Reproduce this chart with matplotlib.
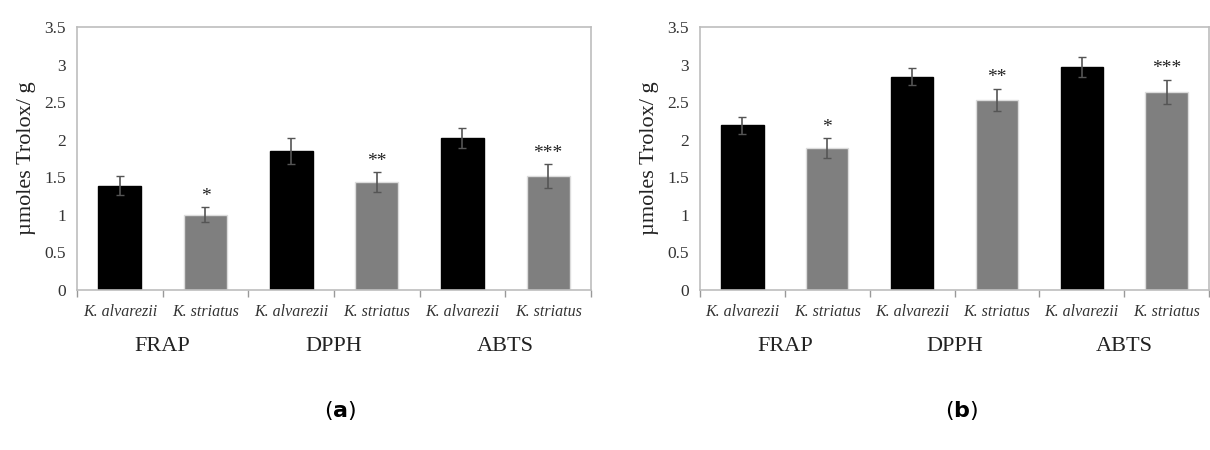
import matplotlib
matplotlib.use("Agg")
import matplotlib.pyplot as plt
import numpy as np

categories = ["K. alvarezii", "K. striatus", "K. alvarezii", "K. striatus", "K. alvarezii", "K. striatus"]
groups = ["FRAP", "DPPH", "ABTS"]
values_a = [1.39, 1.00, 1.85, 1.44, 2.02, 1.52]
errors_a = [0.13, 0.10, 0.17, 0.13, 0.13, 0.16]
values_b = [2.19, 1.89, 2.84, 2.53, 2.97, 2.64]
errors_b = [0.11, 0.13, 0.11, 0.15, 0.13, 0.16]
stars = ["", "*", "", "**", "", "***"]
panel_labels = ["a", "b"]
yticks = [0, 0.5, 1, 1.5, 2, 2.5, 3, 3.5]
ytick_labels = ["0", "0.5", "1", "1.5", "2", "2.5", "3", "3.5"]

colors = ["#000000", "#7f7f7f"] * 3
edges = ["#000000", "#dcdcdc"] * 3
spine_c = "#bdbdbd"

plt.rcParams['font.family'] = ['Liberation Serif', 'DejaVu Serif']
plt.rcParams['mathtext.fontset'] = 'dejavusans'

fig = plt.figure(figsize=(12.1, 4.5), dpi=100)
ax_a = fig.add_axes([77/1210, 160/450, 514/1210, 263/450])
ax_b = fig.add_axes([700/1210, 160/450, 509/1210, 263/450])

for ax, vals, errs in [(ax_a, values_a, errors_a), (ax_b, values_b, errors_b)]:
    x = np.arange(len(categories))
    ax.bar(x, vals, width=0.5, color=colors, edgecolor=edges, linewidth=1.0, zorder=2)
    ax.errorbar(x, vals, yerr=errs, fmt="none", ecolor="#555555", elinewidth=1.2,
                capsize=3, capthick=1.0, zorder=3)
    for xi, v, e, s in zip(x, vals, errs, stars):
        if s:
            ax.text(xi, v + e + 0.03, s, ha="center", va="bottom", fontsize=14, color="#222222")
    ax.set_xlim(-0.5, len(categories) - 0.5)
    ax.set_ylim(0, 3.5)
    ax.set_yticks(yticks)
    ax.set_yticklabels(ytick_labels, fontsize=12.5, color="#333333")
    ax.tick_params(axis="y", length=0, pad=8)
    ax.set_xticks(x)
    ax.set_xticklabels(categories, fontsize=11.5, style="italic", color="#333333")
    ax.set_xticks(np.arange(-0.5, len(categories), 1.0), minor=True)
    ax.tick_params(axis="x", which="major", length=0, pad=10)
    ax.tick_params(axis="x", which="minor", length=5, direction="out", color="#999999", width=1)
    for sp in ax.spines.values():
        sp.set_color(spine_c)
        sp.set_linewidth(1.2)
    ax.set_ylabel("µmoles Trolox/ g", fontsize=16, color="#222222", labelpad=6)
    for gi, g in enumerate(groups):
        ax.text(2 * gi + 0.5, -0.75, g, ha="center", va="center", fontsize=16,
                color="#222222", clip_on=False)

fig.text(340/1210, 1 - 410/450, r"($\mathbf{%s}$)" % panel_labels[0], ha="center", va="center",
         fontsize=16, family="DejaVu Sans")
fig.text(962/1210, 1 - 410/450, r"($\mathbf{%s}$)" % panel_labels[1], ha="center", va="center",
         fontsize=16, family="DejaVu Sans")

fig.savefig("out.png", dpi=100)
